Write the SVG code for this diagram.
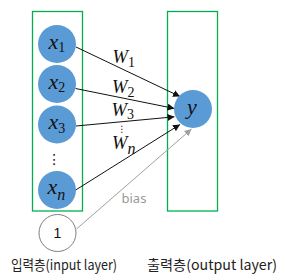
<svg xmlns="http://www.w3.org/2000/svg" width="286" height="276" viewBox="0 0 286 276">
<style>
.box{fill:none;stroke:#00B050;stroke-width:1.3}
.node{fill:#5B9BD5}
.bnode{fill:#fff;stroke:#7F7F7F;stroke-width:1}
.var{font-family:"Liberation Serif",serif;font-style:italic;font-size:22px;fill:#111}
.w{font-family:"Liberation Serif",serif;font-style:italic;font-size:18.5px;fill:#111}
.sub{font-size:14px;font-style:normal}
.subi{font-size:16px}
.lbl{font-family:"Noto Sans CJK KR","Noto Sans",sans-serif;font-size:14px;fill:#222}
.bias{font-family:"Noto Sans","Liberation Sans",sans-serif;font-size:13px;fill:#999}
.one{font-family:"Liberation Sans",sans-serif;font-size:14px;fill:#111}
.edge{stroke:#111;stroke-width:1;fill:none;marker-end:url(#ah)}
.gedge{stroke:#A0A0A0;stroke-width:1;fill:none;marker-end:url(#ahg)}
.dots{font-family:"DejaVu Sans",sans-serif;font-size:14px;fill:#111}
.wdots{font-family:"DejaVu Sans",sans-serif;font-size:9px;fill:#111}
</style>
<defs>
<marker id="ah" viewBox="0 0 10 10" refX="10" refY="5" markerWidth="7" markerHeight="7" markerUnits="userSpaceOnUse" orient="auto">
<path d="M0,0 L10,5 L0,10 z" fill="#111"/>
</marker>
<marker id="ahg" viewBox="0 0 10 10" refX="10" refY="5" markerWidth="7" markerHeight="7" markerUnits="userSpaceOnUse" orient="auto">
<path d="M0,0 L10,5 L0,10 z" fill="#A0A0A0"/>
</marker>
</defs>
<g id="input-layer-box"><rect class="box" x="32.5" y="11.5" width="50" height="199.5"/></g>
<g id="output-layer-box"><rect class="box" x="167.5" y="11.5" width="50" height="199.5"/></g>
<g id="connectors">
<line class="edge" x1="76" y1="47" x2="180" y2="96.5"/>
<line class="edge" x1="75.5" y1="88.5" x2="174.5" y2="108.5"/>
<line class="edge" x1="76" y1="126" x2="174.5" y2="116.8"/>
<line class="edge" x1="75.7" y1="190" x2="180" y2="124.5"/>
<line class="gedge" x1="76.5" y1="229" x2="191.5" y2="129"/>
</g>
<g id="x1"><circle class="node" cx="57" cy="44" r="19"/><text class="var" x="48.5" y="48.5">x<tspan class="sub" dy="3.5">1</tspan></text></g>
<g id="x2"><circle class="node" cx="57" cy="84" r="19"/><text class="var" x="48.5" y="88.5">x<tspan class="sub" dy="3.5">2</tspan></text></g>
<g id="x3"><circle class="node" cx="57" cy="124.5" r="19"/><text class="var" x="48.5" y="129">x<tspan class="sub" dy="3.5">3</tspan></text></g>
<g id="xdots"><text class="dots" x="54.3" y="164" text-anchor="middle">⋮</text></g>
<g id="xn"><circle class="node" cx="57" cy="190" r="19"/><text class="var" x="47.5" y="194.3">x<tspan class="subi" dy="5.5">n</tspan></text></g>
<g id="bias-node"><circle class="bnode" cx="57.5" cy="233" r="18.5"/><text class="one" x="57.5" y="238" text-anchor="middle">1</text></g>
<g id="y"><circle class="node" cx="193" cy="109" r="19"/><text class="var" x="192" y="114" text-anchor="middle">y</text></g>
<g id="weights">
<text class="w" x="112.5" y="63.3">W<tspan class="sub" dy="3.4">1</tspan></text>
<text class="w" x="112" y="93.3">W<tspan class="sub" dy="3.4">2</tspan></text>
<text class="w" x="111.5" y="116.3">W<tspan class="sub" dy="3">3</tspan></text>
<text class="wdots" x="121.7" y="132" text-anchor="middle">⋮</text>
<text class="w" x="112" y="149">W<tspan class="subi" dy="4.8">n</tspan></text>
<text class="bias" x="121.5" y="203.3">bias</text>
</g>
<g id="labels">
<text class="lbl" x="11" y="270" textLength="106" lengthAdjust="spacingAndGlyphs">입력층(input layer)</text>
<text class="lbl" x="147" y="270" textLength="130" lengthAdjust="spacingAndGlyphs">출력층(output layer)</text>
</g>
</svg>
